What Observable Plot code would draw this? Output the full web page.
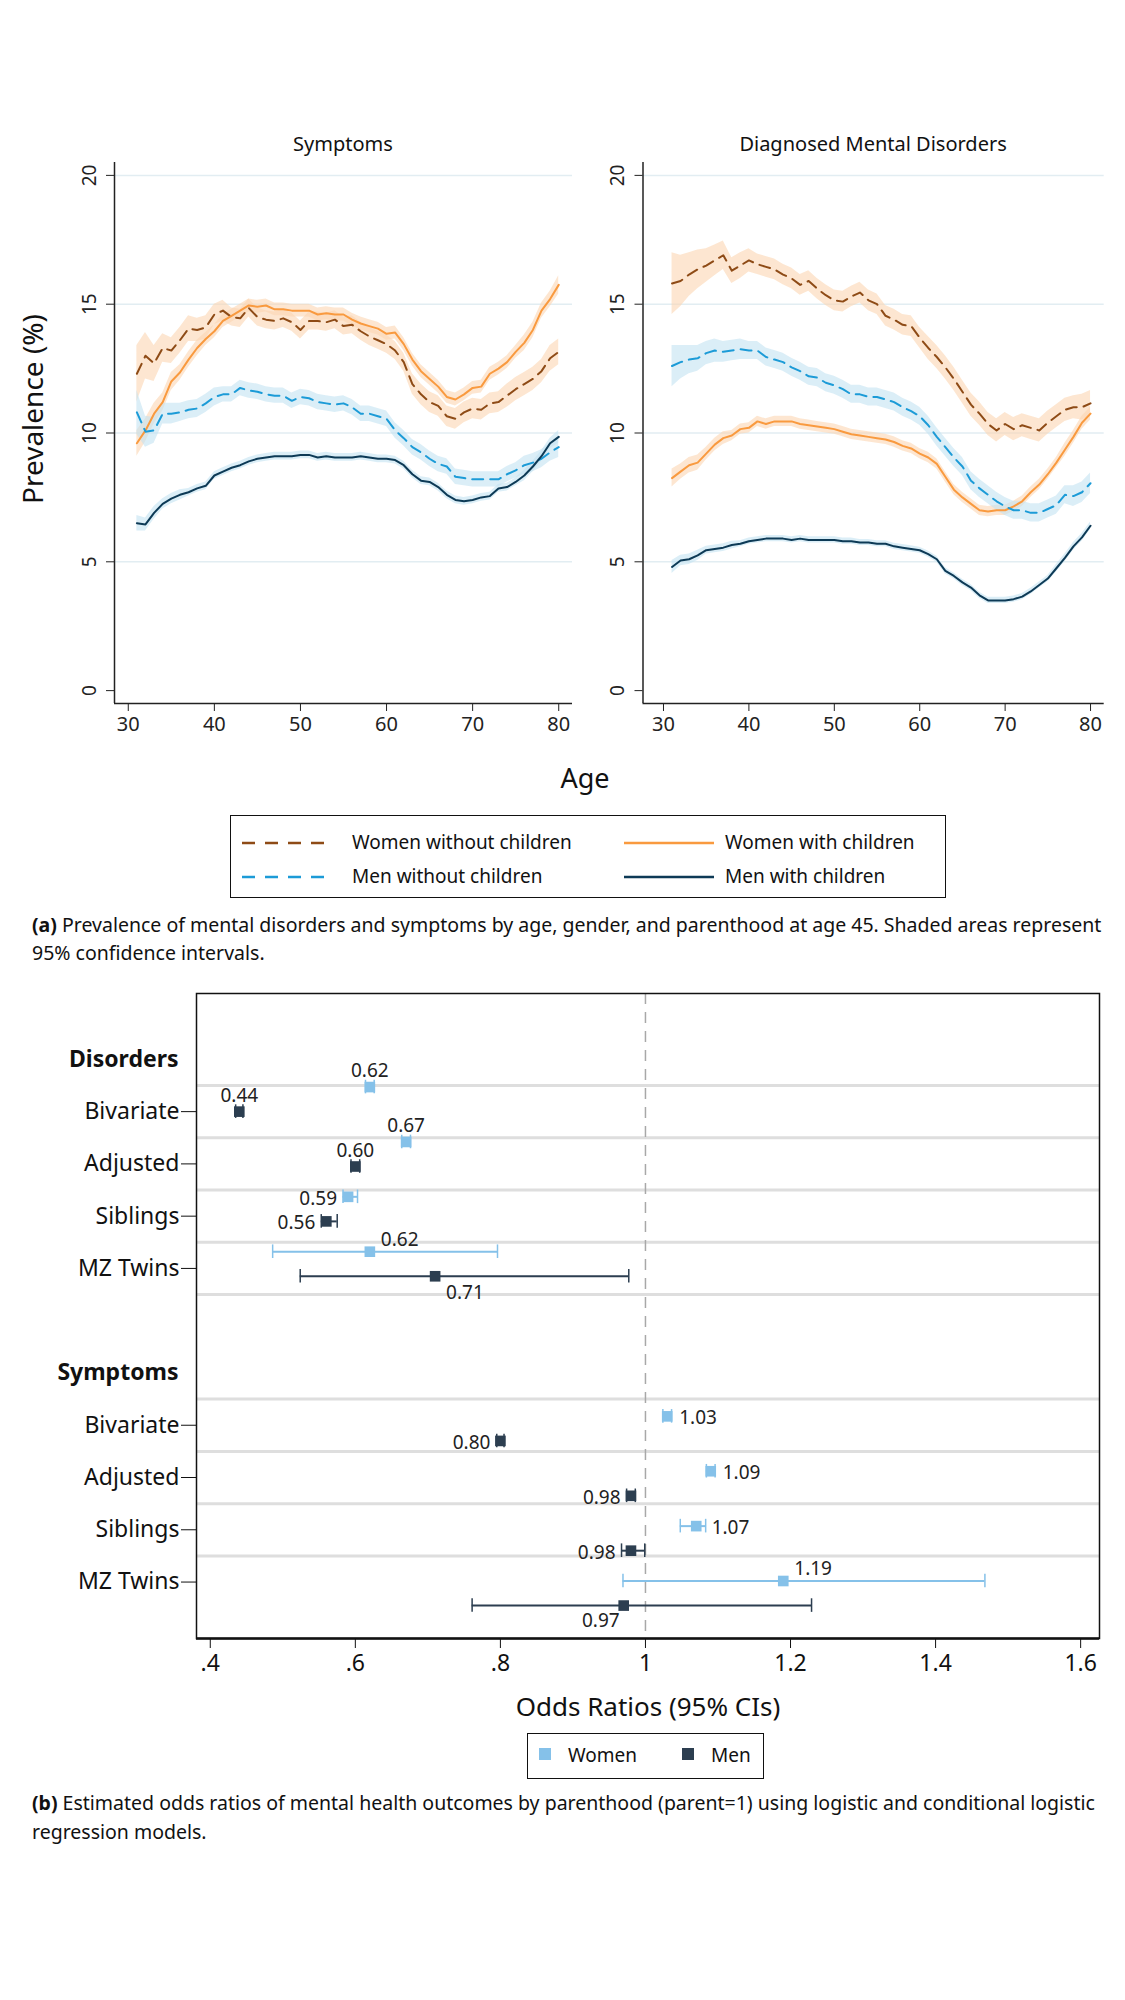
<!DOCTYPE html>
<html>
<head>
<meta charset="utf-8">
<script src="https://cdn.jsdelivr.net/npm/d3@7"></script>
<script src="https://cdn.jsdelivr.net/npm/@observablehq/plot@0.6"></script>
<style>
  body { margin: 0; background: #fff; }
  #page { position: relative; width: 1125px; height: 2000px; background: #fff; font-family: "Noto Sans", "Open Sans", sans-serif; color: #111; overflow: hidden; }
  .abs { position: absolute; }
  .ttl { font-size: 20px; text-align: center; white-space: nowrap; }
  .cap { font-size: 19.5px; line-height: 28px; white-space: nowrap; }
  .box { border: 1.5px solid #111; box-sizing: border-box; background: #fff; }
  .lg { font-size: 19px; white-space: nowrap; }
</style>
</head>
<body>
<div id="page"></div>
<script>
// ---------------- DATA (panel a) ----------------
const ages = [31,32,33,34,35,36,37,38,39,40,41,42,43,44,45,46,47,48,49,50,
              51,52,53,54,55,56,57,58,59,60,61,62,63,64,65,66,67,68,69,70,
              71,72,73,74,75,76,77,78,79,80];
const panels = ["Symptoms", "Diagnosed Mental Disorders"];
const groups = ["Women without children", "Women with children", "Men without children", "Men with children"];
const yTicks = [0, 5, 10, 15, 20];
const xTicks = [30, 40, 50, 60, 70, 80];

// Symptoms: prevalence (%)
const symWomenNo  = [12.3,13.0,12.7,13.3,13.2,13.6,14.05,14.0,14.1,14.6, 14.75,14.5,14.45,14.85,14.5,14.4,14.35,14.45,14.3,14.0,
                     14.35,14.35,14.3,14.4,14.15,14.2,13.95,13.75,13.6,13.45, 13.2,12.75,11.9,11.5,11.2,11.05,10.65,10.55,10.8,10.95,
                     10.9,11.15,11.2,11.45,11.7,11.9,12.1,12.4,12.9,13.15];
const symWomenYes = [9.6,10.1,10.75,11.2,12.0,12.35,12.85,13.3,13.65,13.95, 14.35,14.55,14.75,14.95,14.9,14.95,14.8,14.8,14.75,14.75,
                     14.75,14.6,14.65,14.6,14.6,14.4,14.25,14.15,14.05,13.85, 13.9,13.45,12.85,12.4,12.1,11.8,11.4,11.3,11.5,11.75,
                     11.8,12.3,12.5,12.75,13.15,13.5,14.0,14.75,15.2,15.75];
const symMenNo    = [10.8,10.05,10.1,10.75,10.75,10.8,10.9,10.95,11.15,11.4, 11.5,11.5,11.75,11.65,11.6,11.5,11.45,11.45,11.25,11.4,
                     11.35,11.2,11.15,11.1,11.15,11.0,10.75,10.75,10.65,10.55, 10.1,9.8,9.45,9.25,9.0,8.8,8.7,8.3,8.25,8.2,
                     8.2,8.2,8.2,8.4,8.55,8.75,8.85,9.0,9.25,9.45];
const symMenYes   = [6.5,6.45,6.9,7.25,7.45,7.6,7.7,7.85,7.95,8.35, 8.5,8.65,8.75,8.9,9.0,9.05,9.1,9.1,9.1,9.15,
                     9.15,9.05,9.1,9.05,9.05,9.05,9.1,9.05,9.0,9.0, 8.95,8.75,8.4,8.15,8.1,7.9,7.6,7.4,7.35,7.4,
                     7.5,7.55,7.85,7.9,8.1,8.35,8.7,9.1,9.6,9.85];
// Symptoms: half-width of 95% CI
const symWomenNoCI  = [1.1,0.9,0.7,0.55,0.5,0.5,0.5,0.45,0.45,0.4, 0.4,0.35,0.35,0.35,0.35,0.35,0.35,0.35,0.35,0.35,
                       0.35,0.35,0.35,0.35,0.35,0.35,0.35,0.35,0.35,0.35, 0.35,0.35,0.4,0.4,0.4,0.4,0.4,0.4,0.4,0.4,
                       0.4,0.4,0.4,0.45,0.45,0.45,0.45,0.45,0.5,0.5];
const symWomenYesCI = [0.5,0.45,0.4,0.35,0.35,0.3,0.3,0.3,0.25,0.25, 0.25,0.25,0.25,0.25,0.25,0.25,0.25,0.25,0.25,0.25,
                       0.25,0.25,0.25,0.25,0.25,0.25,0.25,0.25,0.25,0.25, 0.25,0.25,0.25,0.25,0.25,0.25,0.25,0.25,0.25,0.25,
                       0.25,0.25,0.25,0.25,0.25,0.3,0.3,0.3,0.3,0.35];
const symMenNoCI    = [0.85,0.6,0.5,0.4,0.4,0.35,0.35,0.35,0.35,0.35, 0.3,0.3,0.3,0.3,0.3,0.3,0.3,0.3,0.3,0.3,
                       0.3,0.3,0.3,0.3,0.3,0.3,0.3,0.3,0.3,0.3, 0.3,0.3,0.3,0.3,0.3,0.3,0.3,0.3,0.3,0.3,
                       0.3,0.3,0.3,0.3,0.3,0.35,0.35,0.35,0.35,0.4];
const symMenYesCI   = [0.3,0.25,0.25,0.2,0.2,0.2,0.15,0.15,0.15,0.15, 0.15,0.15,0.15,0.15,0.15,0.15,0.15,0.15,0.15,0.15,
                       0.15,0.15,0.15,0.15,0.15,0.15,0.15,0.15,0.15,0.15, 0.15,0.15,0.15,0.15,0.15,0.15,0.15,0.15,0.15,0.15,
                       0.15,0.15,0.15,0.15,0.15,0.2,0.2,0.2,0.2,0.25];

// Diagnosed mental disorders: prevalence (%)
const disWomenNo  = [15.8,15.9,16.15,16.35,16.5,16.7,16.9,16.3,16.5,16.7, 16.55,16.45,16.35,16.15,16.0,15.75,15.9,15.6,15.35,15.15,
                     15.1,15.3,15.45,15.15,15.0,14.55,14.4,14.2,14.15,13.7, 13.3,12.95,12.55,12.1,11.6,11.1,10.75,10.35,10.1,10.35,
                     10.15,10.3,10.2,10.1,10.4,10.65,10.9,11.0,11.0,11.15];
const disWomenYes = [8.25,8.5,8.75,8.85,9.2,9.55,9.8,9.9,10.15,10.2, 10.45,10.35,10.45,10.45,10.45,10.35,10.3,10.25,10.2,10.15,
                     10.05,9.95,9.9,9.85,9.8,9.75,9.65,9.5,9.4,9.2, 9.05,8.8,8.3,7.8,7.5,7.25,7.0,6.95,7.0,7.0,
                     7.15,7.35,7.7,8.0,8.4,8.85,9.35,9.85,10.4,10.75];
const disMenNo    = [12.6,12.75,12.85,12.9,13.1,13.2,13.15,13.2,13.25,13.2, 13.2,12.95,12.85,12.75,12.55,12.4,12.2,12.15,11.95,11.85,
                     11.7,11.5,11.5,11.4,11.4,11.3,11.2,11.0,10.85,10.65, 10.3,9.85,9.45,9.05,8.7,8.15,7.85,7.6,7.35,7.15,
                     7.0,7.0,6.9,6.9,7.05,7.2,7.6,7.55,7.7,8.05];
const disMenYes   = [4.8,5.05,5.1,5.25,5.45,5.5,5.55,5.65,5.7,5.8, 5.85,5.9,5.9,5.9,5.85,5.9,5.85,5.85,5.85,5.85,
                     5.8,5.8,5.75,5.75,5.7,5.7,5.6,5.55,5.5,5.45, 5.3,5.1,4.65,4.45,4.2,4.0,3.7,3.5,3.5,3.5,
                     3.55,3.65,3.85,4.1,4.35,4.75,5.15,5.6,5.95,6.4];
// Diagnosed mental disorders: half-width of 95% CI
const disWomenNoCI  = [1.2,1.0,0.85,0.75,0.65,0.6,0.55,0.5,0.5,0.45, 0.4,0.4,0.4,0.4,0.4,0.4,0.4,0.4,0.4,0.4,
                       0.4,0.4,0.4,0.4,0.4,0.4,0.4,0.4,0.4,0.4, 0.45,0.45,0.45,0.45,0.45,0.45,0.45,0.45,0.45,0.45,
                       0.45,0.45,0.45,0.45,0.45,0.45,0.45,0.45,0.5,0.5];
const disWomenYesCI = [0.35,0.3,0.3,0.3,0.25,0.25,0.25,0.2,0.2,0.2, 0.2,0.2,0.2,0.2,0.2,0.2,0.2,0.2,0.2,0.2,
                       0.2,0.2,0.2,0.2,0.2,0.2,0.2,0.2,0.2,0.2, 0.2,0.2,0.2,0.2,0.2,0.2,0.2,0.2,0.2,0.2,
                       0.2,0.2,0.2,0.2,0.2,0.2,0.25,0.25,0.25,0.25];
const disMenNoCI    = [0.8,0.65,0.55,0.5,0.45,0.45,0.4,0.4,0.4,0.35, 0.35,0.35,0.35,0.35,0.35,0.35,0.35,0.35,0.35,0.35,
                       0.35,0.35,0.35,0.35,0.35,0.35,0.35,0.35,0.35,0.35, 0.35,0.35,0.35,0.35,0.35,0.35,0.35,0.35,0.35,0.35,
                       0.35,0.35,0.35,0.35,0.35,0.35,0.35,0.4,0.4,0.4];
const disMenYesCI   = [0.25,0.2,0.2,0.2,0.15,0.15,0.15,0.15,0.12,0.12, 0.12,0.12,0.12,0.12,0.12,0.12,0.12,0.12,0.12,0.12,
                       0.12,0.12,0.12,0.12,0.12,0.12,0.12,0.12,0.12,0.12, 0.12,0.12,0.12,0.12,0.12,0.12,0.12,0.12,0.12,0.12,
                       0.12,0.12,0.12,0.12,0.12,0.15,0.15,0.15,0.15,0.15];

// ---------------- DATA (panel b) ----------------
const outcomes = ["Disorders", "Symptoms"];
const models = ["Bivariate", "Adjusted", "Siblings", "MZ Twins"];
const orTicks = [0.4, 0.6, 0.8, 1.0, 1.2, 1.4, 1.6];
const orTickLabels = [".4", ".6", ".8", "1", "1.2", "1.4", "1.6"];
// order: Disorders (Bivariate, Adjusted, Siblings, MZ Twins), Symptoms (same)
const womenOR = [0.62, 0.67, 0.59, 0.62, 1.03, 1.09, 1.07, 1.19];
const womenLo = [0.614, 0.664, 0.583, 0.486, 1.024, 1.084, 1.048, 0.969];
const womenHi = [0.626, 0.676, 0.603, 0.796, 1.036, 1.096, 1.083, 1.468];
const menOR   = [0.44, 0.60, 0.56, 0.71, 0.80, 0.98, 0.98, 0.97];
const menLo   = [0.435, 0.594, 0.553, 0.524, 0.795, 0.974, 0.967, 0.761];
const menHi   = [0.445, 0.606, 0.575, 0.977, 0.805, 0.986, 0.999, 1.229];

// ---------------- STYLE ----------------
const FONT = '"Noto Sans", "Open Sans", sans-serif';
const groupStyle = [
  {color: "#8e4b16", band: "#fbd6b2", dash: "11,7"},
  {color: "#f99a3f", band: "#fbd6b2", dash: null},
  {color: "#1c9bd7", band: "#c3e3f2", dash: "11,7"},
  {color: "#0d3a56", band: "#c3e3f2", dash: null}
];
const WCOL = "#85c1e9", MCOL = "#2c3e50";

const page = document.getElementById("page");
function addDiv(cls, style, html) {
  const d = document.createElement("div");
  d.className = "abs " + (cls || "");
  Object.assign(d.style, style);
  d.innerHTML = html;
  page.appendChild(d);
  return d;
}

// ---------------- PANEL (a) ----------------
const panelSeries = [
  [[symWomenNo, symWomenNoCI], [symWomenYes, symWomenYesCI], [symMenNo, symMenNoCI], [symMenYes, symMenYesCI]],
  [[disWomenNo, disWomenNoCI], [disWomenYes, disWomenYesCI], [disMenNo, disMenNoCI], [disMenYes, disMenYesCI]]
];
const YDOM = [-0.5, 20.5];

function prevalencePanel(p, svgLeft, width, mLeft, mRight, xDom) {
  const rows = [];
  panelSeries[p].forEach(([vals, hw], g) => {
    ages.forEach((a, i) => rows.push({g, age: a, v: vals[i], lo: vals[i] - hw[i], hi: vals[i] + hw[i]}));
  });
  const marks = [
    Plot.gridY(yTicks.filter(d => d > 0), {stroke: "#e2edf2", strokeOpacity: 1, strokeWidth: 1.5}),
  ];
  groups.forEach((name, g) => {
    marks.push(Plot.areaY(rows.filter(r => r.g === g), {x: "age", y1: "lo", y2: "hi", fill: groupStyle[g].band, fillOpacity: 0.6}));
  });
  groups.forEach((name, g) => {
    marks.push(Plot.line(rows.filter(r => r.g === g), {x: "age", y: "v", stroke: groupStyle[g].color, strokeWidth: 2,
      strokeDasharray: groupStyle[g].dash || undefined}));
  });
  marks.push(
    Plot.ruleX([xDom[0]], {stroke: "#222", strokeWidth: 1.5}),
    Plot.ruleY([YDOM[0]], {stroke: "#222", strokeWidth: 1.5}),
    Plot.axisX({ticks: xTicks, tickSize: 8, tickPadding: 5, fontSize: 20, label: null, tickFormat: d => String(d)}),
    Plot.axisY({ticks: yTicks, tickSize: 8, tickFormat: () => "", label: null}),
    Plot.text(yTicks, {x: xDom[0], y: d => d, text: d => String(d), rotate: -90, dx: -25, fontSize: 19, fill: "#222"})
  );
  const chart = Plot.plot({
    width, height: 760,
    marginLeft: mLeft, marginRight: mRight, marginTop: 162, marginBottom: 57,
    x: {domain: xDom},
    y: {domain: YDOM},
    style: {fontFamily: FONT, background: "transparent", color: "#222", overflow: "visible"},
    marks
  });
  chart.style.position = "absolute";
  chart.style.left = svgLeft + "px";
  chart.style.top = "0px";
  page.appendChild(chart);
  const cx = svgLeft + (mLeft + width - mRight) / 2;
  addDiv("ttl", {left: (cx - 200) + "px", top: "130px", width: "400px"}, panels[p]);
}
prevalencePanel(0, 0, 590, 114, 18, [28.4, 81.6]);
prevalencePanel(1, 590, 535, 52.5, 21.3, [27.6, 81.6]);

addDiv("", {left: "-73px", top: "390px", width: "210px", textAlign: "center", fontSize: "28px", transform: "rotate(-90deg)", whiteSpace: "nowrap"}, "Prevalence (%)");
addDiv("", {left: "485px", top: "759px", width: "200px", textAlign: "center", fontSize: "27px"}, "Age");

// legend (a)
(function() {
  const box = addDiv("box", {left: "230px", top: "815px", width: "716px", height: "83px"}, "");
  const items = [
    {g: 0, x: 10, y: 27, tx: 121}, {g: 1, x: 392, y: 27, tx: 494}, {g: 2, x: 10, y: 61, tx: 121}, {g: 3, x: 392, y: 61, tx: 494}
  ];
  items.forEach(it => {
    const s = groupStyle[it.g];
    const svg = `<svg width="92" height="6" style="position:absolute;left:${it.x}px;top:${it.y - 3}px"><line x1="1" x2="91" y1="3" y2="3" stroke="${s.color}" stroke-width="2.5" ${s.dash ? `stroke-dasharray="13,10"` : ""}/></svg>`;
    const t = document.createElement("div");
    t.innerHTML = svg;
    box.appendChild(t.firstChild);
    const lab = document.createElement("div");
    lab.className = "abs lg";
    lab.style.left = it.tx + "px";
    lab.style.top = (it.y - 14) + "px";
    lab.textContent = groups[it.g];
    box.appendChild(lab);
  });
})();

addDiv("cap", {left: "32px", top: "911px"}, "<b>(a)</b> Prevalence of mental disorders and symptoms by age, gender, and parenthood at age 45. Shaded areas represent<br>95% confidence intervals.");

// ---------------- PANEL (b) ----------------
const fData = [];
womenOR.forEach((v, k) => {
  const row = k < 4 ? k : k + 2;
  const yW = row - 0.47 + 0.05 * row;
  fData.push({sex: "Women", k, or: womenOR[k], lo: womenLo[k], hi: womenHi[k], y: yW});
  fData.push({sex: "Men", k, or: menOR[k], lo: menLo[k], hi: menHi[k], y: yW + 0.47});
});
const labelPos = {Women: [12, 12, 9, 1, 3, 3, 3, 1], Men: [12, 12, 9, 5, 9, 9, 9, 7]};
const FX = [0.381, 1.626], FY = [10.08, -2.26];
const PXU = (1125 - 196 - 26) / (FX[1] - FX[0]);

const fMarks = [
  Plot.ruleY([-0.5, 0.5, 1.5, 2.5, 3.5, 5.5, 6.5, 7.5, 8.5], {stroke: "#dedede", strokeWidth: 3}),
  Plot.ruleX([1], {stroke: "#a8a8a8", strokeWidth: 1.5, strokeDasharray: "11,8"}),
  Plot.ruleY(fData, {y: "y", x1: "lo", x2: "hi", stroke: d => d.sex === "Women" ? WCOL : MCOL, strokeWidth: 2}),
  Plot.ruleX(fData, {x: "lo", y1: d => d.y - 0.13, y2: d => d.y + 0.13, stroke: d => d.sex === "Women" ? WCOL : MCOL, strokeWidth: 1.5}),
  Plot.ruleX(fData, {x: "hi", y1: d => d.y - 0.13, y2: d => d.y + 0.13, stroke: d => d.sex === "Women" ? WCOL : MCOL, strokeWidth: 1.5}),
  Plot.dot(fData, {x: "or", y: "y", symbol: "square", r: 6, fill: d => d.sex === "Women" ? WCOL : MCOL, stroke: "none"}),
  Plot.frame({stroke: "#111", strokeWidth: 1.5}),
  Plot.ruleY([FY[0]], {stroke: "#111", strokeWidth: 2.5}),
  Plot.axisX({ticks: orTicks, tickFormat: (d, i) => orTickLabels[i], tickSize: 10, tickPadding: 6, fontSize: 23, label: null}),
  Plot.axisY({ticks: [0, 1, 2, 3, 6, 7, 8, 9], tickFormat: d => models[d % 6], tickSize: 15, tickPadding: 2, fontSize: 23, label: null}),
  Plot.text(outcomes, {x: FX[0], y: (d, i) => i * 6 - 1, text: d => d, textAnchor: "end", dx: -18, fontWeight: "bold", fontSize: 23, fill: "#111"})
];
fData.forEach(d => {
  const p = labelPos[d.sex][d.k];
  let dx = 0, dy = 0, anchor = "middle";
  if (p === 12) { dy = -16; }
  else if (p === 9) { dx = -Math.max(10, (d.or - d.lo) * PXU + 6); dy = 2; anchor = "end"; }
  else if (p === 3) { dx = Math.max(12, (d.hi - d.or) * PXU + 6); dy = 2; anchor = "start"; }
  else if (p === 1) { dx = 11; dy = -12; anchor = "start"; }
  else if (p === 5) { dx = 11; dy = 17; anchor = "start"; }
  else if (p === 7) { dx = -4; dy = 15; anchor = "end"; }
  fMarks.push(Plot.text([d], {x: "or", y: "y", text: d => d3.format(".2f")(d.or), dx, dy, textAnchor: anchor, fontSize: 19, fill: "#222"}));
});
const forest = Plot.plot({
  width: 1125, height: 740,
  marginLeft: 196, marginRight: 26, marginTop: 33, marginBottom: 62,
  x: {domain: FX},
  y: {domain: FY},
  style: {fontFamily: FONT, background: "transparent", color: "#111", overflow: "visible"},
  marks: fMarks
});
forest.style.position = "absolute";
forest.style.left = "0px";
forest.style.top = "960px";
page.appendChild(forest);

addDiv("", {left: "448px", top: "1688px", width: "400px", textAlign: "center", fontSize: "26px"}, "Odds Ratios (95% CIs)");

// legend (b)
(function() {
  const box = addDiv("box", {left: "527px", top: "1733px", width: "237px", height: "46px"}, "");
  const items = [{label: "Women", col: WCOL, x: 11}, {label: "Men", col: MCOL, x: 154}];
  items.forEach(it => {
    const sq = document.createElement("div");
    sq.className = "abs";
    Object.assign(sq.style, {left: it.x + "px", top: "14px", width: "12px", height: "12px", background: it.col});
    box.appendChild(sq);
    const lab = document.createElement("div");
    lab.className = "abs lg";
    lab.style.left = (it.x + 29) + "px";
    lab.style.top = "8px";
    lab.textContent = it.label;
    box.appendChild(lab);
  });
})();

addDiv("cap", {left: "32px", top: "1788px", lineHeight: "29px"}, "<b>(b)</b> Estimated odds ratios of mental health outcomes by parenthood (parent=1) using logistic and conditional logistic<br>regression models.");
</script>
</body>
</html>
